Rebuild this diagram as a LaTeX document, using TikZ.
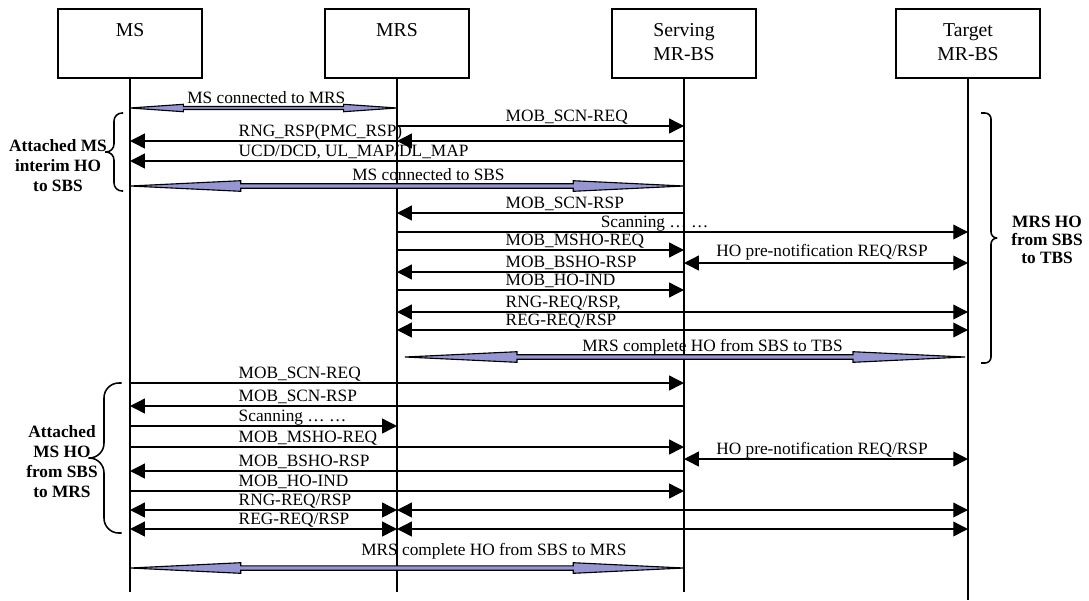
\documentclass[tikz,border=0pt]{standalone}
\usepackage{fontspec}
\setmainfont{Liberation Serif}
\usetikzlibrary{arrows.meta,calc}

\definecolor{fatfill}{RGB}{150,150,210}
\newcommand{\lblsize}{\fontsize{12.3}{14}\selectfont}
% wide double arrow between two coordinates, #1 = thickness factor
\newcommand{\fatarrow}[3][1]{%
  \draw[fat] (#2) -- ($(#2)!0.2!(#3)+(0,5.3*#1)$) -- ($(#2)!0.2!(#3)+(0,2.2*#1)$)
    -- ($(#2)!0.8!(#3)+(0,2.2*#1)$) -- ($(#2)!0.8!(#3)+(0,5.3*#1)$) -- (#3)
    -- ($(#2)!0.8!(#3)+(0,-5.3*#1)$) -- ($(#2)!0.8!(#3)+(0,-2.2*#1)$)
    -- ($(#2)!0.2!(#3)+(0,-2.2*#1)$) -- ($(#2)!0.2!(#3)+(0,-5.3*#1)$) -- cycle;}
% curly brace: end x, spine x, tip x, top y, bottom y
\newcommand{\sidebrace}[6][0.2cm]{%
  \draw[brc=#1] (#2,#5) -- (#3,#5) -- (#3,{(#5+#6)/2}) -- (#4,{(#5+#6)/2});
  \draw[brc=#1] (#4,{(#5+#6)/2}) -- (#3,{(#5+#6)/2}) -- (#3,#6) -- (#2,#6);}

\begin{document}
\begin{tikzpicture}[
    x=0.025cm, y=-0.025cm,
    font=\lblsize,
    box/.style={draw, line width=1.2pt, minimum width=3.6cm, minimum height=1.725cm, align=center, font=\fontsize{14}{17}\selectfont},
    life/.style={line width=1.2pt},
    msg/.style={line width=1pt},
    toright/.style={msg, -{Triangle[length=10.5pt,width=10.5pt]}},
    toleft/.style={msg, {Triangle[length=10.5pt,width=10.5pt]}-},
    twoway/.style={msg, {Triangle[length=10.5pt,width=10.5pt]}-{Triangle[length=10.5pt,width=10.5pt]}},
    fat/.style={draw=black, fill=fatfill, line width=0.8pt},
    lbl/.style={anchor=base west, inner sep=0pt},
    tag/.style={lbl, at start, xshift=#1, yshift=1.25mm},
    tag/.default=2.7cm,
    brc/.style={line width=1.1pt, rounded corners=#1},
    grouplbl/.style={font=\fontsize{12.3}{14.2}\selectfont\bfseries, align=center, inner sep=0pt},
]
    \useasboundingbox (0,0) rectangle (1089,600);

    \node[box] (ms)  at (130,43.5) {MS\strut\\ \strut};
    \node[box] (mrs) at (397,43.5) {MRS\strut\\ \strut};
    \node[box] (sbs) at (684,43.5) {Serving\strut\\MR-BS\strut};
    \node[box] (tbs) at (968,43.5) {Target\strut\\MR-BS\strut};

    \foreach \n/\e in {ms/592, mrs/592, sbs/592, tbs/600}
        \draw[life] (\n.south) -- (\n |- 0,\e);

    % attached MS, interim HO to SBS
    \coordinate (c1a) at (ms |- 0,108);
    \coordinate (c1b) at (mrs |- 0,108);
    \fatarrow[0.7]{c1a}{c1b}
    \node[lbl] (t1) at ($(c1a)+(57,-5)$) {MS connected to MRS};

    \draw[toright] (mrs |- 0,126) -- (sbs |- 0,126) node[tag] {MOB\_SCN-REQ};
    \draw[toleft] (mrs |- 0,141) -- (sbs |- 0,141);
    \draw[toleft] (ms |- 0,141) -- (mrs |- 0,141) node[tag] {RNG\_RSP(PMC\_RSP)};
    \draw[toleft] (ms |- 0,161) -- (sbs |- 0,161) node[tag] {UCD/DCD, UL\_MAP/DL\_MAP};

    \coordinate (c2a) at (ms |- 0,186);
    \coordinate (c2b) at (sbs |- 0,186);
    \fatarrow{c2a}{c2b}
    \node[lbl] (t2) at ($(c2a)+(222,-6)$) {MS connected to SBS};

    % MRS HO from SBS to TBS
    \draw[toleft] (mrs |- 0,213) -- (sbs |- 0,213) node[tag] {MOB\_SCN-RSP};
    \draw[toright] (mrs |- 0,232) -- (tbs |- 0,232) node[tag=5.075cm] {Scanning … …};
    \draw[toright] (mrs |- 0,250) -- (sbs |- 0,250) node[tag] {MOB\_MSHO-REQ};
    \draw[twoway] (sbs |- 0,263) -- (tbs |- 0,263) node[midway, anchor=base, inner sep=0pt, yshift=1.6mm, xshift=-1mm] {HO pre-notification REQ/RSP};
    \draw[toleft] (mrs |- 0,272) -- (sbs |- 0,272) node[tag] {MOB\_BSHO-RSP};
    \draw[toright] (mrs |- 0,290) -- (sbs |- 0,290) node[tag] {MOB\_HO-IND};
    \draw[twoway] (mrs |- 0,312) -- (tbs |- 0,312) node[tag] {RNG-REQ/RSP,};
    \draw[twoway] (mrs |- 0,330) -- (tbs |- 0,330) node[tag] {REG-REQ/RSP};

    \coordinate (c3a) at ($(mrs |- 0,357)+(8,0)$);
    \coordinate (c3b) at ($(tbs |- 0,357)+(-3,0)$);
    \fatarrow{c3a}{c3b}
    \node[lbl] (t3) at ($(c3a)+(177,-6)$) {MRS complete HO from SBS to TBS};

    % attached MS HO from SBS to MRS
    \draw[toright] (ms |- 0,383) -- (sbs |- 0,383) node[tag] {MOB\_SCN-REQ};
    \draw[toleft] (ms |- 0,406) -- (sbs |- 0,406) node[tag] {MOB\_SCN-RSP};
    \draw[toright] (ms |- 0,426) -- (mrs |- 0,426) node[tag] {Scanning … …};
    \draw[toright] (ms |- 0,447) -- (sbs |- 0,447) node[tag] {MOB\_MSHO-REQ};
    \draw[twoway] (sbs |- 0,459) -- (tbs |- 0,459) node[midway, anchor=base, inner sep=0pt, yshift=1.2mm, xshift=-1mm] {HO pre-notification REQ/RSP};
    \draw[toleft] (ms |- 0,471) -- (sbs |- 0,471) node[tag] {MOB\_BSHO-RSP};
    \draw[toright] (ms |- 0,491) -- (sbs |- 0,491) node[tag] {MOB\_HO-IND};
    \draw[twoway] (ms |- 0,510) -- (mrs |- 0,510) node[tag] {RNG-REQ/RSP};
    \draw[twoway] (mrs |- 0,510) -- (tbs |- 0,510);
    \draw[twoway] (ms |- 0,529) -- (mrs |- 0,529) node[tag] {REG-REQ/RSP};
    \draw[twoway] (mrs |- 0,529) -- (tbs |- 0,529);

    \coordinate (c4a) at (ms |- 0,568);
    \coordinate (c4b) at (sbs |- 0,568);
    \fatarrow{c4a}{c4b}
    \node[lbl] (t4) at ($(c4a)+(231,-13)$) {MRS complete HO from SBS to MRS};

    % braces and group names
    \sidebrace[0.2cm]{123}{114}{105}{113}{191}
    \sidebrace[0.37cm]{121.5}{104}{88.5}{383}{533}
    \sidebrace[0.15cm]{981}{991}{997}{113}{363}

    \node[grouplbl] (g1) at (58,166) {Attached MS\\interim HO\\to SBS};
    \node[grouplbl] (g2) at (62,462) {Attached\\MS HO\\from SBS\\to MRS};
    \node[grouplbl, font=\fontsize{12.3}{12.8}\selectfont\bfseries] (g3) at (1047,240) {MRS HO\\from SBS\\to TBS};
\end{tikzpicture}
\end{document}
